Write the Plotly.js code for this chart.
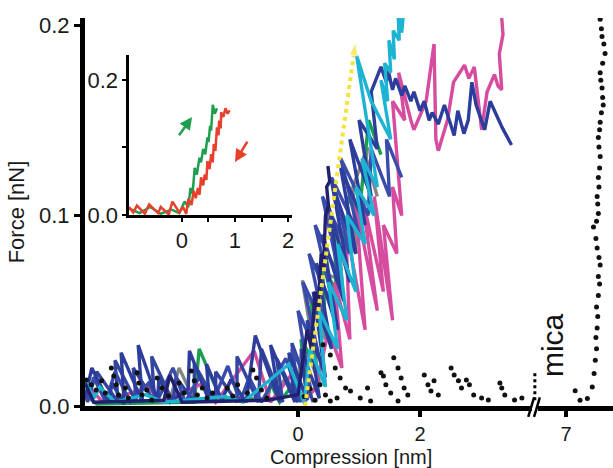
<!DOCTYPE html>
<html>
<head>
<meta charset="utf-8">
<script src="https://cdn.plot.ly/plotly-3.0.1.min.js"></script>
<style>html,body{margin:0;padding:0;background:#fff;}#chart{width:613px;height:468px;}</style>
</head>
<body>
<div id="chart"></div>
<script>
// ---- data (x: compression [nm], y: force [nN]) ----
const blue1 = [[-3.49,0.004],[-3.38,0.020],[-3.10,0.002],[-3.05,0.012],[-2.85,0.001],[-2.90,0.028],[-2.55,0.002],[-2.62,0.032],[-2.30,0.003],[-2.28,0.015],[-2.10,0.002],[-1.80,0.009],[-1.78,0.029],[-1.45,0.002],[-1.50,0.022],[-1.25,0.003],[-1.10,0.014],[-0.85,0.002],[-0.70,0.037],[-0.30,0.002],[-0.45,0.032],[-0.05,0.002],[-0.15,0.028],[0.15,0.003],[0.05,0.030],[0.35,0.004],[0.15,0.045],[0.45,0.015],[0.25,0.060],[0.55,0.030],[0.30,0.075],[0.65,0.040],[0.40,0.090],[0.75,0.055],[0.50,0.105],[0.85,0.065],[0.55,0.118],[0.95,0.080],[0.70,0.125],[1.10,0.095],[0.85,0.140],[1.20,0.110],[1.00,0.150],[1.30,0.135],[1.20,0.165],[1.36,0.178],[1.45,0.170],[1.48,0.176],[1.55,0.166],[1.60,0.172],[1.70,0.163],[1.75,0.168],[1.85,0.160],[1.90,0.165],[2.00,0.155],[2.07,0.160],[2.15,0.150],[2.20,0.154],[2.30,0.148],[2.40,0.158],[2.50,0.148],[2.56,0.142],[2.62,0.155],[2.72,0.143],[2.79,0.150],[2.85,0.170],[2.92,0.158],[3.00,0.150],[3.06,0.145],[3.15,0.160],[3.22,0.155],[3.35,0.146],[3.50,0.137]];
const blue2 = [[-3.49,0.008],[-3.45,0.002],[-3.35,0.015],[-3.15,0.002],[-3.00,0.018],[-2.75,0.002],[-2.45,0.012],[-2.30,0.003],[-2.05,0.020],[-1.85,0.002],[-1.60,0.016],[-1.40,0.002],[-1.15,0.021],[-0.95,0.002],[-0.80,0.015],[-0.60,0.002],[-0.20,0.025],[0.05,0.002],[-0.10,0.030],[0.20,0.010],[0.00,0.050],[0.35,0.025],[0.08,0.065],[0.45,0.040],[0.18,0.080],[0.60,0.050],[0.28,0.095],[0.70,0.065],[0.40,0.110],[0.85,0.080],[0.55,0.120],[1.00,0.090],[0.70,0.130],[1.15,0.100],[1.20,0.135],[1.50,0.110],[1.45,0.140],[1.70,0.120]];
const blue3 = [[-3.45,0.003],[-3.30,0.018],[-2.95,0.002],[-3.00,0.024],[-2.65,0.002],[-2.70,0.020],[-2.35,0.002],[-2.40,0.026],[-2.05,0.002],[-2.00,0.015],[-1.70,0.002],[-1.70,0.022],[-1.35,0.002],[-1.35,0.018],[-1.00,0.002],[-1.00,0.026],[-0.65,0.002],[-0.60,0.030],[-0.25,0.002],[-0.35,0.025],[0.00,0.002],[-0.10,0.033],[0.25,0.002]];
const navy = [[-3.49,0.012],[-3.35,0.002],[-2.20,0.003],[-2.10,0.016],[-1.90,0.002],[-0.50,0.003],[0.00,0.006],[0.15,0.040],[0.22,0.030],[0.28,0.060],[0.33,0.050],[0.38,0.080],[0.42,0.072],[0.45,0.100],[0.50,0.105],[0.47,0.115],[0.52,0.118],[0.49,0.126]];
const cyan = [[-3.49,0.014],[-3.35,0.004],[-3.25,0.010],[-3.00,0.002],[-2.50,0.006],[-2.20,0.002],[-1.20,0.005],[-0.90,0.002],[-0.15,0.022],[0.10,0.002],[0.20,0.030],[0.45,0.010],[0.35,0.050],[0.65,0.030],[0.50,0.065],[0.80,0.045],[0.65,0.085],[0.95,0.060],[0.80,0.100],[1.10,0.085],[0.95,0.115],[1.25,0.100],[1.05,0.130],[1.30,0.115],[0.96,0.184],[1.20,0.160],[1.52,0.140],[1.36,0.171],[1.47,0.160],[1.42,0.180],[1.52,0.175],[1.49,0.192],[1.58,0.182],[1.56,0.197],[1.66,0.192],[1.64,0.207],[1.70,0.196],[1.74,0.210],[1.80,0.212]];
const magenta = [[-3.49,0.003],[-3.40,0.009],[-3.20,0.002],[-2.45,0.010],[-2.25,0.002],[-1.55,0.012],[-1.35,0.002],[-0.72,0.029],[-0.45,0.002],[-0.12,0.016],[0.10,0.002],[0.30,0.010],[0.50,0.040],[0.72,0.020],[0.60,0.065],[0.85,0.035],[0.78,0.095],[1.10,0.040],[0.95,0.105],[1.30,0.050],[1.05,0.110],[1.40,0.060],[1.25,0.110],[1.55,0.045],[1.40,0.095],[1.62,0.080],[1.55,0.115],[1.70,0.100],[1.60,0.140],[1.55,0.160],[1.75,0.150],[1.65,0.175],[1.85,0.150],[1.90,0.145],[2.10,0.160],[2.23,0.190],[2.26,0.140],[2.30,0.134],[2.45,0.150],[2.55,0.170],[2.73,0.179],[2.80,0.172],[2.89,0.178],[2.95,0.160],[3.01,0.145],[3.10,0.165],[3.22,0.174],[3.28,0.168],[3.34,0.166],[3.30,0.185],[3.36,0.195],[3.33,0.208]];
const gray = [[-2.10,0.003],[-1.95,0.020],[-1.70,0.003],[-0.40,0.004],[-0.20,0.015],[-0.05,0.003],[0.08,0.034],[0.35,0.012],[0.07,0.066],[0.45,0.035],[0.40,0.070],[0.72,0.066],[0.65,0.095],[0.95,0.080],[0.90,0.115],[1.14,0.136],[1.12,0.130],[1.30,0.110]];
const green = [[-3.49,0.006],[-3.30,0.001],[-1.70,0.002],[-1.62,0.030],[-1.27,0.004],[-0.50,0.003],[-0.45,0.012],[-0.30,0.002],[0.00,0.015],[0.15,0.004],[0.05,0.035],[0.30,0.020],[0.22,0.055],[0.45,0.040],[0.40,0.075],[0.62,0.060],[0.60,0.095],[0.85,0.085],[0.80,0.110],[1.00,0.100],[1.16,0.150],[1.36,0.132]];
const dotsMain = [[-3.47,0.0137],[-3.39,0.0111],[-3.31,0.0084],[-3.22,0.0132],[-3.16,0.0068],[-3.06,0.0200],[-3.02,0.0158],[-2.98,0.0111],[-2.94,0.0058],[-2.83,0.0095],[-2.78,0.0042],[-2.64,0.0174],[-2.61,0.0121],[-2.56,0.0058],[-2.48,0.0084],[-2.40,0.0032],[-2.31,0.0147],[-2.23,0.0095],[-2.12,0.0053],[-1.95,0.0121],[-1.87,0.0068],[-1.75,0.0184],[-1.70,0.0132],[-1.65,0.0058],[-1.57,0.0095],[-1.49,0.0042],[-1.40,0.0068],[-1.16,0.0095],[-1.07,0.0053],[-0.99,0.0111],[-0.83,0.0068],[-0.74,0.0189],[-0.68,0.0147],[-0.60,0.0084],[-0.51,0.0042],[0.10,0.005],[0.20,0.009],[0.28,0.003],[0.41,0.0321],[0.53,0.0268],[0.61,0.0200],[0.69,0.0147],[0.78,0.0095],[0.36,0.0111],[0.45,0.0058],[0.53,0.0026],[0.64,0.0042],[0.86,0.0079],[1.02,0.0042],[1.14,0.0095],[1.19,0.0026],[1.36,0.0174],[1.40,0.0158],[1.44,0.0111],[1.52,0.0068],[1.64,0.0026],[1.57,0.0253],[1.64,0.0200],[1.69,0.0147],[1.74,0.0095],[1.80,0.0058],[2.07,0.0163],[2.13,0.0111],[2.18,0.0079],[2.23,0.0132],[2.30,0.0058],[2.51,0.0200],[2.56,0.0163],[2.63,0.0132],[2.68,0.0095],[2.76,0.0137],[2.81,0.0111],[2.88,0.0058],[3.01,0.0042],[3.12,0.0032],[3.31,0.0121],[3.34,0.0095],[3.39,0.0058],[3.55,0.0032],[3.67,0.0042]];
const micaX = [7.15,7.23,7.35,7.43,7.46,7.48,7.50,7.49,7.51,7.52,7.50,7.53,7.55,7.53,7.56,7.54,7.51,7.49,7.45,7.50,7.53,7.52,7.51,7.54,7.53,7.55,7.56,7.54,7.53,7.55,7.56,7.58,7.61,7.60,7.59,7.57,7.56,7.60,7.64,7.62,7.59,7.58,7.56,7.55];
const micaY = [0.008,0.003,0.004,0.010,0.017,0.024,0.030,0.036,0.041,0.047,0.052,0.058,0.064,0.068,0.074,0.078,0.083,0.088,0.094,0.097,0.101,0.106,0.110,0.115,0.120,0.125,0.131,0.136,0.141,0.145,0.149,0.154,0.158,0.162,0.167,0.171,0.175,0.180,0.185,0.190,0.194,0.198,0.203,0.207];
const guideX = [0.116, 0.942];
const guideY = [0.000, 0.191];
// inset (approach / retract)
const insetGreen = [[-1.00,0.010],[-0.80,0.003],[-0.60,0.012],[-0.40,0.002],[-0.20,0.008],[-0.05,0.003],[0.05,0.020],[0.12,0.012],[0.16,0.040],[0.20,0.032],[0.24,0.070],[0.28,0.060],[0.33,0.085],[0.36,0.078],[0.40,0.098],[0.44,0.090],[0.48,0.115],[0.50,0.108],[0.53,0.132],[0.55,0.125],[0.58,0.163],[0.62,0.150],[0.66,0.158]];
const insetRed = [[-1.00,0.012],[-0.92,0.004],[-0.85,0.014],[-0.70,0.002],[-0.62,0.016],[-0.45,0.003],[-0.40,0.012],[-0.25,0.001],[-0.18,0.020],[-0.05,0.004],[0.02,0.012],[0.08,0.002],[0.12,0.024],[0.18,0.015],[0.22,0.036],[0.26,0.025],[0.30,0.040],[0.33,0.030],[0.36,0.056],[0.40,0.044],[0.43,0.060],[0.46,0.052],[0.48,0.080],[0.52,0.068],[0.55,0.090],[0.58,0.078],[0.60,0.105],[0.63,0.095],[0.66,0.130],[0.69,0.118],[0.70,0.140],[0.73,0.128],[0.74,0.152],[0.78,0.145],[0.82,0.158],[0.86,0.150],[0.90,0.155]];
const mainTickVals = [0, 2];
const mainTickText = ['0', '2'];
const breakTickVals = [7];
const breakTickText = ['7'];
const yTickVals = [0, 0.1, 0.2];
const yTickText = ['0.0', '0.1', '0.2'];
const insetXTickVals = [0, 0.5, 1, 1.5, 2];
const insetXTickText = ['0', '', '1', '', '2'];
const insetYTickVals = [0, 0.1, 0.2];
const insetYTickText = ['0.0', '', '0.2'];

// ---- traces ----
function line(pts, color, xa, ya, w) {
  return {type:'scatter', mode:'lines', x:pts.map(p=>p[0]), y:pts.map(p=>p[1]),
    xaxis:xa||'x', yaxis:ya||'y', line:{color:color, width:w||3.4}, hoverinfo:'skip'};
}
const traces = [
  line(gray, '#858585'),
  line(green, '#1b9e50'),
  line(magenta, '#d64c9f'),
  line(blue3, '#34459f'),
  line(blue2, '#3a4cab'),
  line(blue1, '#2c3d9b'),
  line(cyan, '#1db4d3'),
  line(navy, '#20206e'),
  {type:'scatter', mode:'markers', x:dotsMain.map(p=>p[0]), y:dotsMain.map(p=>p[1]),
    marker:{color:'#111', size:5}, hoverinfo:'skip'},
  {type:'scatter', mode:'lines+markers', x:guideX, y:guideY,
    line:{color:'#f3e33c', width:4, dash:'dot'},
    marker:{symbol:'arrow', size:[0,14], angleref:'previous', color:'#f3e33c'}, hoverinfo:'skip'},
  {type:'scatter', mode:'markers', x:micaX, y:micaY, xaxis:'x2', yaxis:'y',
    marker:{color:'#111', size:5}, hoverinfo:'skip'},
  line(insetGreen, '#1f9e4f', 'x3', 'y3', 2.5),
  line(insetRed, '#e8402c', 'x3', 'y3', 2.5)
];

const F = '"Liberation Sans", Arial, Helvetica, sans-serif';
const axBase = {showgrid:false, zeroline:false, showline:true, linecolor:'black', fixedrange:true};
const layout = {
  width:613, height:468, margin:{l:85, r:0, t:18, b:62},
  paper_bgcolor:'white', plot_bgcolor:'rgba(0,0,0,0)', showlegend:false, hovermode:false,
  font:{family:F, color:'#1a1a1a', size:22},
  xaxis:Object.assign({}, axBase, {domain:[0,0.8466], range:[-3.492,3.836], anchor:'y',
    linewidth:5, ticks:'outside', ticklen:6, tickwidth:4, tickcolor:'black',
    tickmode:'array', tickvals:mainTickVals, ticktext:mainTickText, ticklabelstandoff:0,
    tickfont:{size:20}}),
  xaxis2:Object.assign({}, axBase, {domain:[0.858,1], range:[6.541,7.770], anchor:'y',
    linewidth:5, ticks:'outside', ticklen:6, tickwidth:4, tickcolor:'black',
    tickmode:'array', tickvals:breakTickVals, ticktext:breakTickText, ticklabelstandoff:0,
    tickfont:{size:20}}),
  yaxis:Object.assign({}, axBase, {range:[0,0.2037], anchor:'x',
    linewidth:5, ticks:'outside', ticklen:6, tickwidth:3, tickcolor:'black',
    tickmode:'array', tickvals:yTickVals, ticktext:yTickText, tickfont:{size:22},
    title:{text:'Force [nN]', font:{size:22}, standoff:10}}),
  xaxis3:Object.assign({}, axBase, {domain:[0.0833,0.392], range:[-1,2.075], anchor:'y3',
    linewidth:2.5, ticks:'outside', ticklen:4, tickwidth:2, tickcolor:'black',
    tickmode:'array', tickvals:insetXTickVals, ticktext:insetXTickText, tickfont:{size:22}}),
  yaxis3:Object.assign({}, axBase, {domain:[0.492,0.905], range:[0,0.237], anchor:'x3',
    linewidth:2.5, ticks:'outside', ticklen:4, tickwidth:2, tickcolor:'black',
    tickmode:'array', tickvals:insetYTickVals, ticktext:insetYTickText, tickfont:{size:22}}),
  shapes:[
    {type:'line', xref:'paper', yref:'paper', x0:0.8395, y0:-0.028, x1:0.8505, y1:0.022, line:{color:'black', width:2.5}},
    {type:'line', xref:'paper', yref:'paper', x0:0.8505, y0:-0.028, x1:0.8615, y1:0.022, line:{color:'black', width:2.5}},
    {type:'line', xref:'paper', yref:'paper', x0:0.852, y0:0.015, x1:0.852, y1:0.088, line:{color:'black', width:3, dash:'dot'}}
  ],
  annotations:[
    {text:'Compression [nm]', xref:'paper', yref:'paper', x:0.504, y:-0.131, showarrow:false,
      xanchor:'center', yanchor:'middle', font:{size:20}},
    {text:'mica', xref:'x2', yref:'y', x:6.77, y:0.032, showarrow:false, textangle:-90,
      xanchor:'center', yanchor:'middle', font:{size:30, color:'#111'}},
    {text:'', xref:'x3', yref:'y3', axref:'x3', ayref:'y3', x:0.19, y:0.145, ax:-0.075, ay:0.116,
      showarrow:true, arrowhead:2, arrowsize:1, arrowwidth:2.5, arrowcolor:'#1f9e4f'},
    {text:'', xref:'x3', yref:'y3', axref:'x3', ayref:'y3', x:1.0, y:0.0785, ax:1.25, ay:0.111,
      showarrow:true, arrowhead:2, arrowsize:1, arrowwidth:2.5, arrowcolor:'#e8402c'}
  ]
};
Plotly.newPlot('chart', traces, layout, {staticPlot:true, displayModeBar:false});
</script>
</body>
</html>
